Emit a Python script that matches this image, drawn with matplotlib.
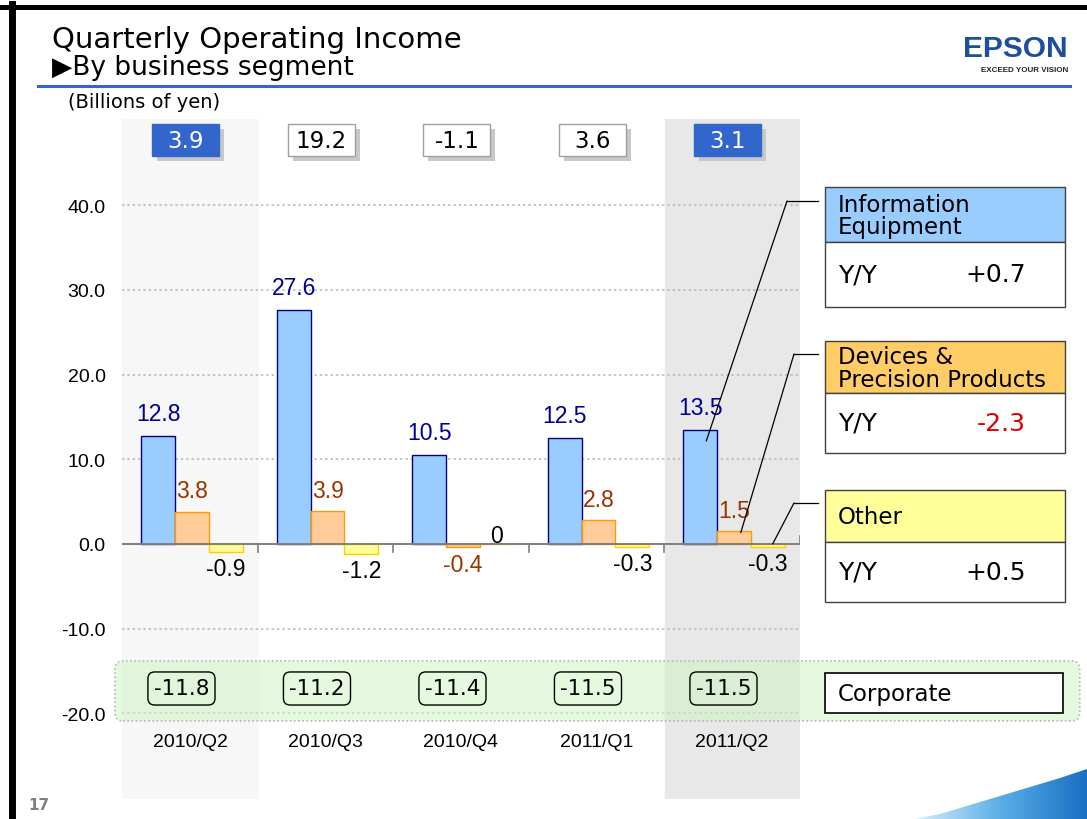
import numpy as np
import matplotlib
matplotlib.use("Agg")
import matplotlib.pyplot as plt
from matplotlib.patches import Rectangle, FancyBboxPatch, Polygon
from matplotlib.lines import Line2D
from matplotlib.transforms import Affine2D
from matplotlib.colors import LinearSegmentedColormap
from matplotlib.ticker import FormatStrFormatter

# data (billions of yen)
categories = ['2010/Q2', '2010/Q3', '2010/Q4', '2011/Q1', '2011/Q2']
info_equipment = [12.8, 27.6, 10.5, 12.5, 13.5]
devices_precision = [3.8, 3.9, -0.4, 2.8, 1.5]
other = [-0.9, -1.2, 0.0, -0.3, -0.3]
corporate = [-11.8, -11.2, -11.4, -11.5, -11.5]
total = [3.9, 19.2, -1.1, 3.6, 3.1]

segment_names = ['Information\nEquipment', 'Devices &\nPrecision Products', 'Other']
yy_change = [0.7, -2.3, 0.5]

ARIAL = ['Liberation Sans', 'DejaVu Sans']
VERD = ['DejaVu Sans']

W, H = 1087, 820
fig = plt.figure(figsize=(W / 100, H / 100), dpi=100)
# pixel coords, origin top-left
px = Affine2D().scale(1 / W, -1 / H).translate(0, 1) + fig.transFigure

ax = fig.add_axes([122.25 / W, 1 - 800 / H, 677.5 / W, 680 / H])
ax.set_xlim(-0.5, 4.5)
ax.set_ylim(-30.09, 50.15)
for s in ax.spines.values():
    s.set_visible(False)
ax.set_xticks([])
ax.set_yticks(np.arange(-20, 41, 10))
ax.yaxis.set_major_formatter(FormatStrFormatter('%.1f'))
ax.tick_params(axis='y', length=0, pad=12, labelsize=14, labelfontfamily='Liberation Sans')
ax.grid(axis='y', ls=(0, (1.5, 2)), color='#b4b4b4', lw=1.1)
ax.set_axisbelow(True)

# shaded columns for the compared quarters
ax.axvspan(-0.515, 0.5, color='#f7f7f7', zorder=0)
ax.axvspan(3.505, 4.5, color='#e8e8e8', zorder=0)

x = np.arange(len(categories))
ax.bar(x - 0.235, info_equipment, 0.25, color='#99ccff', edgecolor='#000080', lw=1, zorder=2)
ax.bar(x + 0.015, devices_precision, 0.25, color='#ffcc99', edgecolor='#ff9900', lw=1, zorder=2)
ax.bar(x + 0.265, other, 0.25, color='#ffff99', edgecolor='#ffcc00', lw=1, zorder=2)

# axis line with group separators
ax.plot([-0.5, 4.5], [0, 0], color='#7f7f7f', lw=1.4, zorder=3)
for b in [0.5, 1.5, 2.5, 3.5]:
    ax.plot([b, b], [0, -0.95], color='#7f7f7f', lw=1.2, zorder=3)
ax.plot([4.5, 4.5], [0, 0.9], color='#7f7f7f', lw=1.2, zorder=3)


def fmt(v):
    return '0' if v == 0 else f'{v:.1f}'


for vals, off, col, up in [(info_equipment, -0.235, '#000099', 16),
                           (devices_precision, 0.015, '#993300', 15),
                           (other, 0.265, 'black', 15)]:
    for i, v in enumerate(vals):
        if v > 0:
            dy = up
        elif v == 0:
            dy = 6
        else:
            dy = -12
        ax.annotate(fmt(v), (i + off, v), xytext=(0, dy), textcoords='offset points',
                    ha='center', va='center', fontsize=16.5, family=ARIAL, color=col, zorder=5)

for i, c in enumerate(categories):
    ax.text(i, -23.36, c, ha='center', va='center', fontsize=14, family=ARIAL)

# total boxes on top
highlight = [True, False, False, False, True]
for i, v in enumerate(total):
    cx = i - 0.03
    ax.add_patch(Rectangle((cx - 0.2475 + 0.035, 47.67 - 1.89 - 0.55), 0.495, 3.78,
                           fc='#c8c8c8', ec='none', zorder=3, clip_on=False))
    if highlight[i]:
        ax.add_patch(Rectangle((cx - 0.2475, 47.67 - 1.89), 0.495, 3.78,
                               fc='#3366cc', ec='#3366cc', zorder=4, clip_on=False))
        tc = 'white'
    else:
        ax.add_patch(Rectangle((cx - 0.2475, 47.67 - 1.89), 0.495, 3.78,
                               fc='white', ec='#a0a0a0', lw=1, zorder=4, clip_on=False))
        tc = 'black'
    ax.text(cx, 47.67, fmt(v), ha='center', va='center', fontsize=16.5,
            family=VERD, color=tc, zorder=5)

# corporate band
ax.add_patch(FancyBboxPatch((-0.5535, -20.88), 7.12, 7.08,
                            boxstyle='round,pad=0,rounding_size=0.06', mutation_aspect=16,
                            fc=(0.8, 0.96, 0.75, 0.5), ec='#a8bca8', ls=(0, (1, 1.5)),
                            lw=1.2, clip_on=False, zorder=1))
for i, v in enumerate(corporate):
    cx = i - 0.063
    ax.add_patch(FancyBboxPatch((cx - 0.2475, -17.05 - 1.95), 0.495, 3.9,
                                boxstyle='round,pad=0,rounding_size=0.05', mutation_aspect=16,
                                fc='none', ec='black', lw=1, clip_on=False, zorder=3))
    ax.text(cx, -17.05, f'{v:.1f}', ha='center', va='center', fontsize=15.5,
            family=VERD, zorder=5)

# right-hand segment panels
panel_tops = [188, 342, 491]
header_h = [55, 52, 52]
body_h = [65, 60, 60]
header_colors = ['#99ccff', '#ffcc66', '#ffff99']
for k in range(3):
    t, hh, bh = panel_tops[k], header_h[k], body_h[k]
    fig.add_artist(Rectangle((825, t), 240, hh, transform=px, fc=header_colors[k], ec='#404040', lw=1))
    fig.add_artist(Rectangle((825, t + hh), 240, bh, transform=px, fc='white', ec='#404040', lw=1))
    fig.text(838, t + hh / 2 + 1, segment_names[k], transform=px, ha='left', va='center',
             fontsize=16.5, family=VERD, linespacing=0.95)
    fig.text(838, t + hh + bh / 2, 'Y/Y', transform=px, ha='left', va='center', fontsize=18, family=VERD)
    v = yy_change[k]
    fig.text(1026, t + hh + bh / 2, f'{v:+.1f}', transform=px, ha='right', va='center',
             fontsize=18, family=VERD, color='#dd0000' if v < 0 else 'black')

# leader lines from the 2011/Q2 bars
elbows = [(787, 202), (794, 355), (794, 504)]
anchors = [(4 - 0.235 + 0.045, info_equipment[4] * 0.9),
           (4 + 0.015 + 0.05, devices_precision[4] * 0.9),
           (4 + 0.265 + 0.035, 0)]
for (ex, ey), a in zip(elbows, anchors):
    ax.annotate('', xy=a, xycoords='data', xytext=(ex, ey), textcoords=px,
                arrowprops=dict(arrowstyle='-', color='black', lw=0.9, shrinkA=0, shrinkB=0),
                annotation_clip=False, zorder=6)
    fig.add_artist(Line2D([ex, 818], [ey, ey], transform=px, color='black', lw=0.9))

fig.add_artist(Rectangle((825, 674), 238, 40, transform=px, fc='white', ec='black', lw=1.2))
fig.text(838, 695, 'Corporate', transform=px, ha='left', va='center', fontsize=16.5, family=VERD)

# slide decoration
fig.add_artist(Line2D([0, W], [7.5, 7.5], transform=px, color='black', lw=3.6))
fig.add_artist(Line2D([11.5, 11.5], [5, H], transform=px, color='black', lw=5))
fig.add_artist(Line2D([38, 1070], [87, 87], transform=px, color='#3366cc', lw=2.2))
fig.text(52, 40, 'Quarterly Operating Income', transform=px, ha='left', va='center', fontsize=21, family=VERD)
fig.text(52, 68, '\u25b6By business segment', transform=px, ha='left', va='center', fontsize=19, family=VERD)
fig.text(68, 103, '(Billions of yen)', transform=px, ha='left', va='center', fontsize=14, family=VERD)
fig.text(1068, 49, 'EPSON', transform=px, ha='right', va='center', fontsize=21.5,
         weight='bold', family=ARIAL, color='#1c4fa0')
fig.text(1068, 70, 'EXCEED YOUR VISION', transform=px, ha='right', va='center', fontsize=5.8,
         weight='bold', family=ARIAL, color='#222222')
fig.text(28, 806, '17', transform=px, ha='left', va='center', fontsize=11, weight='bold',
         family=VERD, color='#7f7f7f')

# blue swoosh bottom right
sw = fig.add_axes([915 / W, 0, 172 / W, 55 / H])
sw.set_xlim(915, 1087)
sw.set_ylim(820, 765)
sw.axis('off')
cmap = LinearSegmentedColormap.from_list('sw', ['#d8eefa', '#5aaee6', '#1a6fc4'])
im = sw.imshow(np.linspace(0, 1, 256).reshape(1, -1), extent=(915, 1087, 820, 765),
               aspect='auto', cmap=cmap)
poly = Polygon([(915, 820), (940, 815), (970, 806), (1000, 797), (1030, 788), (1060, 779), (1087, 770), (1087, 820)],
               closed=True, transform=sw.transData)
im.set_clip_path(poly)

fig.savefig('out.png', dpi=100)
